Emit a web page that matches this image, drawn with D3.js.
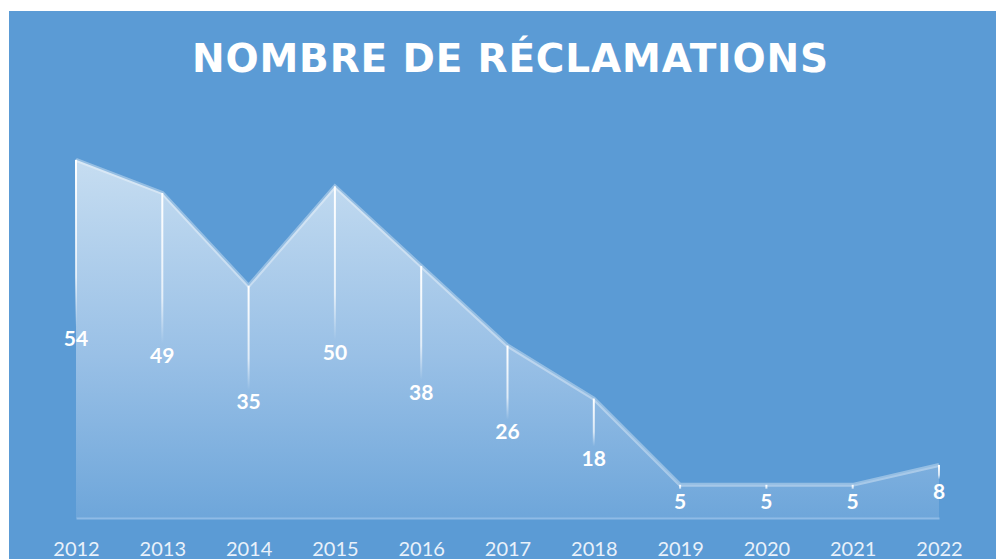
<!DOCTYPE html>
<html>
<head>
<meta charset="utf-8">
<script src="https://cdn.jsdelivr.net/npm/d3@7"></script>
<style>
  body { margin: 0; background: #fff; }
  svg { display: block; }
</style>
</head>
<body>
<div id="root"></div>
<script>
const years = ["2012", "2013", "2014", "2015", "2016", "2017", "2018", "2019", "2020", "2021", "2022"];
const complaints = [54, 49, 35, 50, 38, 26, 18, 5, 5, 5, 8];
const chartTitle = "NOMBRE DE RÉCLAMATIONS";

const outerWidth = 996;
const outerHeight = 559;

const svg = d3.select("#root")
              .append("svg")
              .attr("width", outerWidth)
              .attr("height", outerHeight);

// background card
svg.append("rect")
   .attr("x", 9)
   .attr("y", 11)
   .attr("width", outerWidth - 9)
   .attr("height", outerHeight - 11)
   .attr("fill", "#5b9bd5");

const scaleX = d3.scalePoint().domain(years).range([76, 939]);
const scaleY = d3.scaleLinear().domain([0, 60]).range([518, 120]);

const defs = svg.append("defs");

let areaGrad = defs.append("linearGradient")
                   .attr("id", "areaGrad")
                   .attr("gradientUnits", "userSpaceOnUse")
                   .attr("x1", 0).attr("x2", 0)
                   .attr("y1", scaleY(54)).attr("y2", scaleY(0));
areaGrad.append("stop").attr("offset", "0%").attr("stop-color", "#c6ddf1");
areaGrad.append("stop").attr("offset", "55%").attr("stop-color", "#99c0e6");
areaGrad.append("stop").attr("offset", "100%").attr("stop-color", "#6ea6da");

let dropGrad = defs.append("linearGradient")
                   .attr("id", "dropGrad")
                   .attr("x1", 0).attr("x2", 0)
                   .attr("y1", 0).attr("y2", 1);
dropGrad.append("stop").attr("offset", "0%").attr("stop-color", "#ffffff").attr("stop-opacity", 1);
dropGrad.append("stop").attr("offset", "70%").attr("stop-color", "#ffffff").attr("stop-opacity", 0.7);
dropGrad.append("stop").attr("offset", "100%").attr("stop-color", "#ffffff").attr("stop-opacity", 0);

const data = years.map((y, i) => ({ year: y, value: complaints[i] }));

const area = d3.area()
               .x(d => scaleX(d.year))
               .y0(scaleY(0))
               .y1(d => scaleY(d.value));

const line = d3.line()
               .x(d => scaleX(d.year))
               .y(d => scaleY(d.value));

svg.append("path")
   .datum(data)
   .attr("d", area)
   .attr("fill", "url(#areaGrad)");

svg.append("path")
   .datum(data)
   .attr("d", line)
   .attr("fill", "none")
   .attr("stroke", "#ffffff")
   .attr("stroke-opacity", 0.35)
   .attr("stroke-width", 4);

// x axis, domain doubles as the baseline
let xAxis = d3.axisBottom(scaleX).tickSize(0).tickPadding(24);
let gx = svg.append("g")
            .attr("transform", `translate(0, ${scaleY(0)})`)
            .call(xAxis);
gx.select(".domain")
  .attr("stroke", "#8fbbe6")
  .attr("stroke-width", 2);
gx.selectAll("text")
  .attr("fill", "#e9f1fa")
  .style("font-family", "Lato, 'Open Sans', sans-serif")
  .style("font-size", "20px");

// drop lines down to the value labels
let drop = svg.selectAll(".drop")
              .data(data)
              .enter().append("g")
              .attr("class", "drop");

drop.append("rect")
    .attr("x", d => scaleX(d.year) - 1)
    .attr("y", d => scaleY(d.value))
    .attr("width", 2)
    .attr("height", d => Math.max(0, scaleY(d.value / 2) - 12 - scaleY(d.value)))
    .attr("fill", "url(#dropGrad)");

drop.append("text")
    .attr("x", d => scaleX(d.year))
    .attr("y", d => scaleY(d.value / 2))
    .attr("dy", "0.36em")
    .attr("text-anchor", "middle")
    .attr("fill", "#ffffff")
    .style("font-family", "Lato, 'Open Sans', sans-serif")
    .style("font-weight", "bold")
    .style("font-size", "21px")
    .text(d => d.value);

svg.append("text")
   .attr("x", 510)
   .attr("y", 72)
   .attr("text-anchor", "middle")
   .attr("textLength", 636)
   .attr("lengthAdjust", "spacing")
   .attr("fill", "#ffffff")
   .style("font-family", "'DejaVu Sans', Verdana, sans-serif")
   .style("font-weight", "bold")
   .style("font-size", "39px")
   .text(chartTitle);
</script>
</body>
</html>
